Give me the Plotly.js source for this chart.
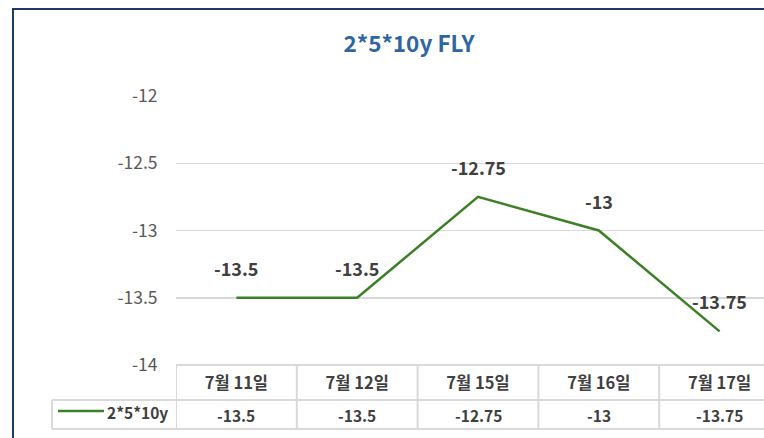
<!DOCTYPE html>
<html>
<head>
<meta charset="utf-8">
<script src="https://cdn.plot.ly/plotly-3.0.1.min.js"></script>
<style>
html,body{margin:0;padding:0;overflow:hidden;background:#fff;width:764px;height:438px;}
#chart{width:790px;height:438px;}
</style>
</head>
<body>
<div id="chart"></div>
<script>
const categories = ["7월 11일", "7월 12일", "7월 15일", "7월 16일", "7월 17일"];
const values = [-13.5, -13.5, -12.75, -13, -13.75];
const seriesName = "2*5*10y";
const chartTitle = "2*5*10y FLY";
const yTicks = [-14, -13.5, -13, -12.5, -12];

const FONT = "'Noto Sans CJK KR', 'Noto Sans', sans-serif";
const idx = categories.map((c, i) => i);

const trace = {
  x: idx,
  y: values,
  type: 'scatter',
  mode: 'lines',
  line: {color: '#3D7F24', width: 2.5},
  showlegend: false,
  hoverinfo: 'skip'
};

const annotations = [];
// data labels above points
values.forEach((v, i) => {
  annotations.push({
    x: i, y: v, xref: 'x', yref: 'y',
    text: String(v), showarrow: false, yshift: 30,
    font: {family: FONT, size: 18, color: '#404040', weight: 'bold'}
  });
});
// data table values row
values.forEach((v, i) => {
  annotations.push({
    x: i, y: -0.186, xref: 'x', yref: 'paper',
    text: String(v), showarrow: false, yanchor: 'middle',
    font: {family: FONT, size: 15.5, color: '#404040', weight: 'bold'}
  });
});
// legend key label in table
annotations.push({
  x: -0.0099, y: -0.173, xref: 'paper', yref: 'paper',
  text: seriesName, showarrow: false, xanchor: 'right', yanchor: 'middle',
  font: {family: FONT, size: 15.5, color: '#404040', weight: 'bold'}
});

const gridC = '#D9D9D9';
const shapes = [];
// table horizontal lines
shapes.push({type: 'line', xref: 'paper', yref: 'paper', x0: 0, x1: 1, y0: 0, y1: 0, line: {color: gridC, width: 2}});
shapes.push({type: 'line', xref: 'paper', yref: 'paper', x0: -0.2053, x1: 1, y0: -0.1301, y1: -0.1301, line: {color: gridC, width: 2}});
shapes.push({type: 'line', xref: 'paper', yref: 'paper', x0: -0.2053, x1: 1, y0: -0.2379, y1: -0.2379, line: {color: gridC, width: 2}});
// table vertical lines at category boundaries
for (let i = 0; i <= categories.length; i++) {
  shapes.push({type: 'line', xref: 'x', yref: 'paper', x0: i - 0.5, x1: i - 0.5, y0: 0, y1: -0.2379, line: {color: gridC, width: 2}});
}
// legend cell left edge
shapes.push({type: 'line', xref: 'paper', yref: 'paper', x0: -0.2053, x1: -0.2053, y0: -0.1301, y1: -0.2379, line: {color: gridC, width: 2}});
// legend key line
shapes.push({type: 'line', xref: 'paper', yref: 'paper', x0: -0.1954, x1: -0.1192, y0: -0.171, y1: -0.171, line: {color: '#3D7F24', width: 2.5}});
// chart border (left + top)
shapes.push({type: 'rect', xref: 'paper', yref: 'paper', x0: -0.2699, x1: 1.2, y0: 1.3234, y1: -0.5, line: {color: '#1F3B63', width: 2}, layer: 'above'});

const layout = {
  width: 790,
  height: 438,
  margin: {l: 176, r: 10, t: 96, b: 73},
  paper_bgcolor: '#ffffff',
  plot_bgcolor: '#ffffff',
  title: {
    text: chartTitle,
    xref: 'container', yref: 'container',
    x: 409 / 790, y: 1 - 44 / 438, xanchor: 'center', yanchor: 'middle',
    font: {family: FONT, size: 22.5, color: '#2E65A2', weight: 'bold'}
  },
  xaxis: {
    range: [-0.5, categories.length - 0.5],
    tickvals: idx,
    ticktext: categories,
    showgrid: false,
    zeroline: false,
    showline: false,
    ticks: 'outside',
    ticklen: 3,
    tickcolor: 'rgba(0,0,0,0)',
    tickfont: {family: FONT, size: 16.5, color: '#404040', weight: 'bold'},
    fixedrange: true
  },
  yaxis: {
    range: [-14, -12],
    tickvals: yTicks,
    ticktext: yTicks.map(String),
    showgrid: true,
    gridcolor: gridC,
    gridwidth: 1.5,
    zeroline: false,
    showline: false,
    ticks: 'outside',
    ticklen: 14,
    tickcolor: 'rgba(0,0,0,0)',
    tickfont: {family: FONT, size: 17.5, color: '#595959'},
    fixedrange: true
  },
  shapes: shapes,
  annotations: annotations,
  showlegend: false
};

Plotly.newPlot('chart', [trace], layout, {displayModeBar: false, staticPlot: true});
</script>
</body>
</html>
